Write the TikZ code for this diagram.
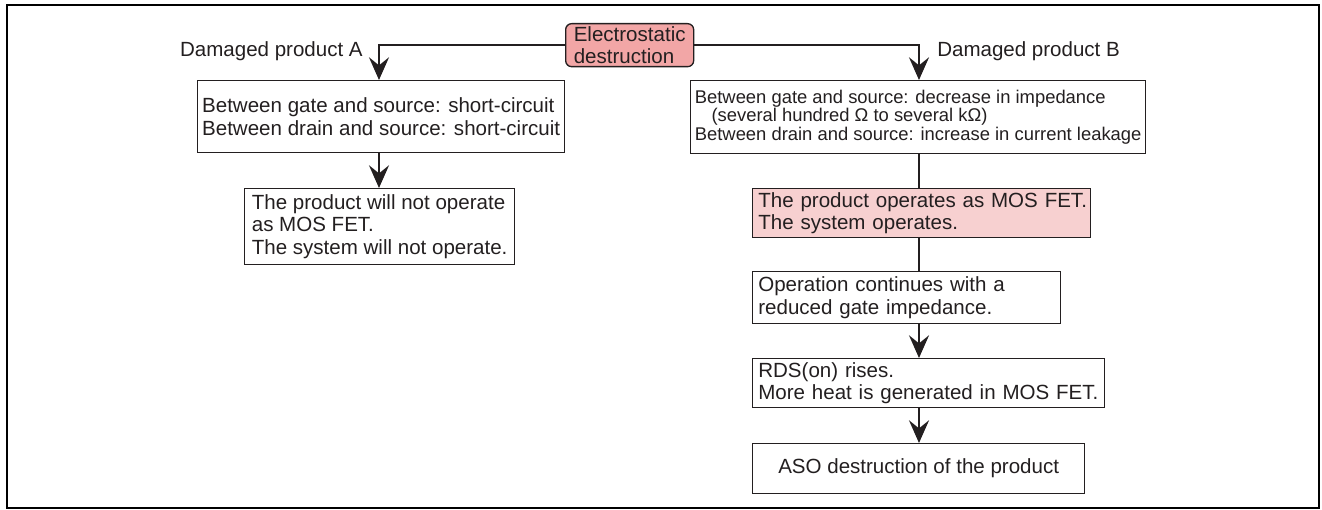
\documentclass[tikz,border=0pt]{standalone}
\usepackage{fontspec}
\setmainfont{Liberation Sans}
\usetikzlibrary{arrows.meta}
\definecolor{ink}{HTML}{231F20}
\definecolor{esfill}{RGB}{242,166,166}
\definecolor{pinkfill}{RGB}{247,208,208}
\newcommand\fa{\fontsize{15.4pt}{16.7pt}\selectfont}
\newcommand\fb{\fontsize{13.8pt}{13.9pt}\selectfont}
\begin{document}
\begin{tikzpicture}[x=0.75pt,y=-0.75pt,
 box/.style={draw=ink,line width=1pt,anchor=north west,inner xsep=0pt,inner ysep=0pt,align=left,font=\fa,text=ink},
 conn/.style={draw=ink,line width=1.5pt},
 arr/.style={conn,-{Stealth[length=17pt,width=15pt,inset=6pt]}},
 lbl/.style={font=\fa,inner sep=0pt,text=ink}]
\useasboundingbox (0,0) rectangle (1322,510);
\draw[line width=2pt] (7,5) rectangle (1319,508);

\node[box, fill=esfill, rounded corners=4.5pt, minimum width=96pt, minimum height=32.25pt] (es) at (565,23) {Electrostatic\\destruction};

\node[box, minimum width=275.25pt, minimum height=54pt] (boxA) at (197,80)
 {Between gate and source: short-circuit\\Between drain and source: short-circuit};
\node[box, minimum width=202.5pt, minimum height=57pt] (boxA2) at (244,188)
 {The product will not operate\\as MOS FET.\\The system will not operate.};

\node[box, font=\fb, minimum width=341.25pt, minimum height=54.75pt] (boxB) at (690,80)
 {Between gate and source: decrease in impedance\\\hspace*{12.5pt}(several hundred Ω to several kΩ)\\Between drain and source: increase in current leakage};
\node[box, fill=pinkfill, minimum width=253.5pt, minimum height=36.75pt, text width=245pt, inner xsep=4.25pt] (pink) at (752,188)
 {\mbox{The product operates as MOS FET.}\\\mbox{The system operates.}};
\node[box, minimum width=231pt, minimum height=39pt, text width=222.5pt, inner xsep=4.25pt] (op) at (752,271)
 {\mbox{Operation continues with a}\\\mbox{reduced gate impedance.}};
\node[box, minimum width=264pt, minimum height=36.75pt, text width=255.5pt, inner xsep=4.25pt] (rds) at (752,358)
 {\mbox{RDS(on) rises.}\\\mbox{More heat is generated in MOS FET.}};
\node[box, align=center, minimum width=249pt, minimum height=37.5pt] (aso) at (752,443)
 {ASO destruction of the product};

\node[lbl, anchor=base east] (la) at (363,57) {Damaged product A};
\node[lbl, anchor=base west] (lb) at (937,57) {Damaged product B};

\coordinate (xa) at (379,0);
\coordinate (xb) at (919,0);
\draw[arr] (es.west) -| (xa |- boxA.north);
\draw[arr] (es.east) -| (xb |- boxB.north);
\draw[arr] (xa |- boxA.south) -- (xa |- boxA2.north);
\draw[conn] (xb |- boxB.south) -- (xb |- pink.north);
\draw[conn] (xb |- pink.south) -- (xb |- op.north);
\draw[arr] (xb |- op.south) -- (xb |- rds.north);
\draw[arr] (xb |- rds.south) -- (xb |- aso.north);
\end{tikzpicture}
\end{document}
